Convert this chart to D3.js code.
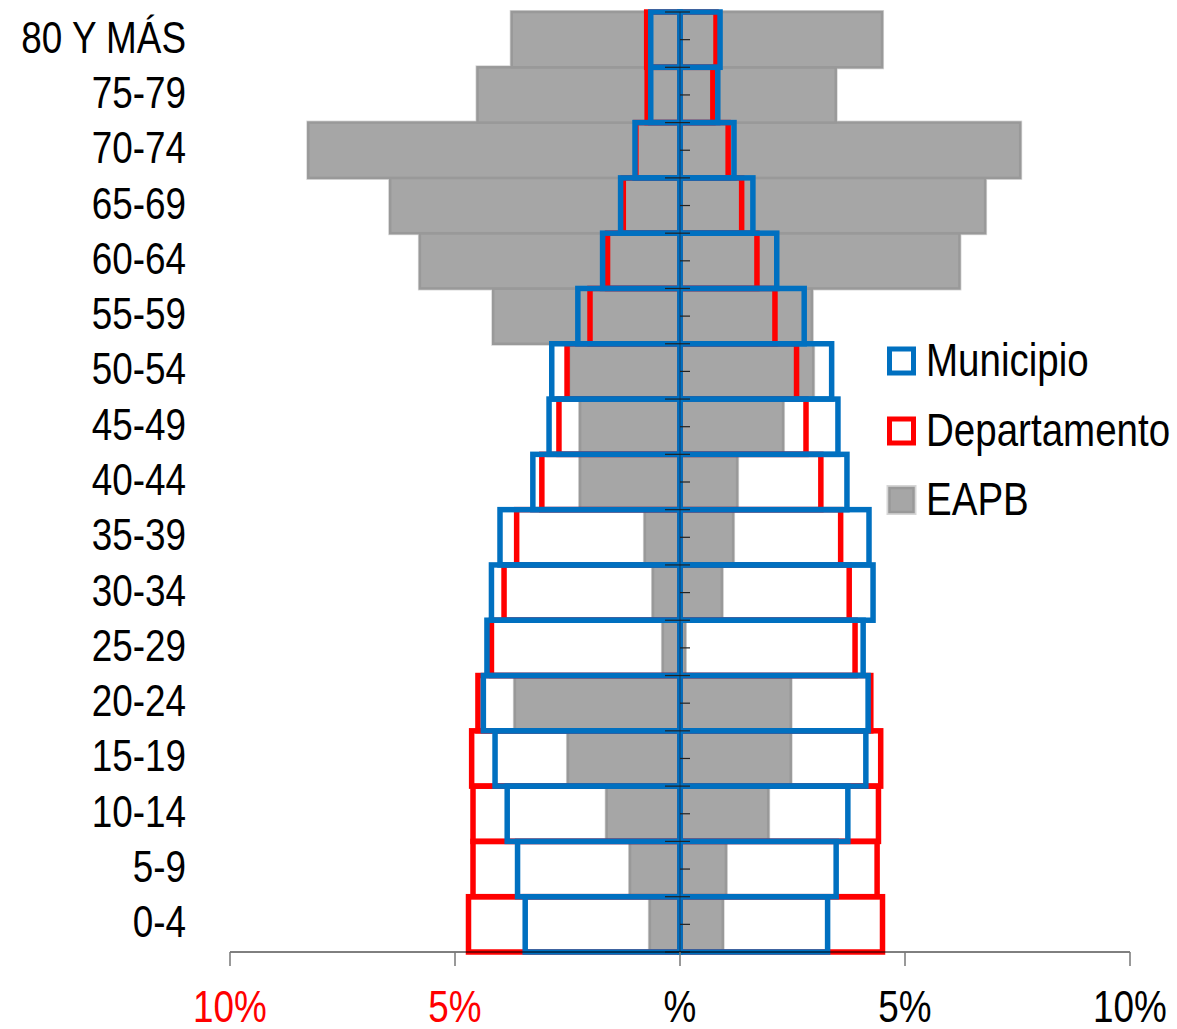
<!DOCTYPE html>
<html><head><meta charset="utf-8">
<script src="https://cdn.jsdelivr.net/npm/d3@7"></script>
<style>html,body{margin:0;padding:0;background:#fff}svg{display:block}</style>
</head><body>
<script>
const categories = ["0-4","5-9","10-14","15-19","20-24","25-29","30-34","35-39","40-44","45-49","50-54","55-59","60-64","65-69","70-74","75-79","80 Y MÁS"];
const municipioLeft  = [3.44,3.61,3.84,4.11,4.37,4.29,4.19,4.00,3.27,2.91,2.85,2.27,1.72,1.32,1.00,0.65,0.65];
const municipioRight = [3.28,3.47,3.73,4.13,4.18,4.07,4.29,4.20,3.71,3.51,3.37,2.76,2.15,1.62,1.20,0.84,0.89];
const deptoLeft      = [4.70,4.60,4.60,4.63,4.49,4.19,3.91,3.63,3.07,2.69,2.51,2.00,1.61,1.26,0.98,0.73,0.74];
const deptoRight     = [4.50,4.38,4.41,4.46,4.24,3.89,3.76,3.57,3.13,2.80,2.59,2.11,1.71,1.37,1.07,0.73,0.80];
const eapbLeft       = [0.67,1.11,1.63,2.49,3.67,0.38,0.60,0.78,2.22,2.22,2.46,4.15,5.78,6.44,8.26,4.50,3.74];
const eapbRight      = [0.95,1.02,1.96,2.46,2.46,0.11,0.93,1.18,1.27,2.29,2.96,2.93,6.21,6.78,7.56,3.46,4.49];
const xTicks = [-10,-5,0,5,10];
const xTickLabels = ["10%","5%","%","5%","10%"];
const legendLabels = ["Municipio","Departamento","EAPB"];

const W = 1177, H = 1029;
const FONT = "'Liberation Sans',Arial,sans-serif";
const SX = 0.82; // condensed look (Arial Narrow style)
const svg = d3.select("body").append("svg").attr("width", W).attr("height", H);

const x = d3.scaleLinear().domain([-10, 10]).range([230, 1130]);
const y = d3.scaleBand().domain(categories.slice().reverse()).range([12, 952]).padding(0);
const bw = y.bandwidth();

function drawSide(g, vals, side, cls) {
  return g.selectAll("rect." + cls + side).data(categories).join("rect")
    .attr("class", cls + side)
    .attr("x", (d, i) => side === "L" ? x(-vals[i]) : x(0))
    .attr("width", (d, i) => side === "L" ? x(0) - x(-vals[i]) : x(vals[i]) - x(0))
    .attr("y", d => y(d))
    .attr("height", bw);
}

function narrowText(g, tx, ty, txt, size, anchor, fill) {
  return g.append("text")
    .attr("transform", `translate(${tx},${ty}) scale(${SX},1)`)
    .attr("text-anchor", anchor).attr("font-family", FONT).attr("font-size", size)
    .attr("fill", fill).text(txt);
}

// EAPB grey bars (halo + fill)
const gHalo = svg.append("g");
[["L", eapbLeft], ["R", eapbRight]].forEach(([s, v]) => {
  drawSide(gHalo, v, s, "halo").attr("fill", "none").attr("stroke", "#d6d6d6").attr("stroke-width", 4);
});
const gGrey = svg.append("g");
[["L", eapbLeft], ["R", eapbRight]].forEach(([s, v]) => {
  drawSide(gGrey, v, s, "grey").attr("fill", "#a6a6a6").attr("stroke", "#999999").attr("stroke-width", 2.5);
});

// Departamento red outlines
const gRed = svg.append("g");
[["L", deptoLeft], ["R", deptoRight]].forEach(([s, v]) => {
  drawSide(gRed, v, s, "red").attr("fill", "none").attr("stroke", "#ff0000").attr("stroke-width", 5.5);
});

// Municipio blue outlines
const gBlue = svg.append("g");
[["L", municipioLeft], ["R", municipioRight]].forEach(([s, v]) => {
  drawSide(gBlue, v, s, "blue").attr("fill", "none").attr("stroke", "#0070c0").attr("stroke-width", 5.5);
});

// Vertical category axis at 0
const gy = svg.append("g");
gy.append("line").attr("x1", x(0)).attr("x2", x(0)).attr("y1", 12).attr("y2", 952)
  .attr("stroke", "#1f3a5a").attr("stroke-width", 1);
const boundaries = categories.map(c => y(c)).concat([952]);
gy.selectAll("line.maj").data(boundaries).join("line").attr("class", "maj")
  .attr("x1", x(0) - 15).attr("x2", x(0) + 10).attr("y1", d => d).attr("y2", d => d)
  .attr("stroke", "#222").attr("stroke-width", 1.2);
gy.selectAll("line.min").data(categories).join("line").attr("class", "min")
  .attr("x1", x(0)).attr("x2", x(0) + 10).attr("y1", d => y(d) + bw / 2).attr("y2", d => y(d) + bw / 2)
  .attr("stroke", "#222").attr("stroke-width", 1.2);

// Category labels
const gl = svg.append("g");
categories.forEach(c => narrowText(gl, 186, y(c) + bw / 2 + 13, c, 45, "end", "#000"));

// X axis
const gx = svg.append("g");
gx.append("line").attr("x1", x(-10)).attr("x2", x(10)).attr("y1", 952).attr("y2", 952)
  .attr("stroke", "#000").attr("stroke-width", 1);
gx.selectAll("line.t").data(xTicks).join("line").attr("class", "t")
  .attr("x1", d => x(d)).attr("x2", d => x(d)).attr("y1", 952).attr("y2", 966)
  .attr("stroke", "#777").attr("stroke-width", 1.5);
xTicks.forEach((d, i) => narrowText(gx, x(d), 1022, xTickLabels[i], 45, "middle", d < 0 ? "#ff0000" : "#000"));

// Legend
const lg = svg.append("g");
const ly = [361, 431, 500];
const lstyle = [
  {fill: "none", stroke: "#0070c0", sw: 5},
  {fill: "none", stroke: "#ff0000", sw: 5},
  {fill: "#a6a6a6", stroke: "#999999", sw: 2.5}
];
legendLabels.forEach((t, i) => {
  if (i === 2) {
    lg.append("rect").attr("x", 888).attr("y", ly[i] - 13.5).attr("width", 27).attr("height", 27)
      .attr("fill", "none").attr("stroke", "#d6d6d6").attr("stroke-width", 3);
  }
  lg.append("rect").attr("x", 889.5).attr("y", ly[i] - 12).attr("width", 24).attr("height", 24)
    .attr("fill", lstyle[i].fill).attr("stroke", lstyle[i].stroke).attr("stroke-width", lstyle[i].sw);
  narrowText(lg, 926, ly[i] + 15, t, 47, "start", "#000");
});
</script>
</body></html>
